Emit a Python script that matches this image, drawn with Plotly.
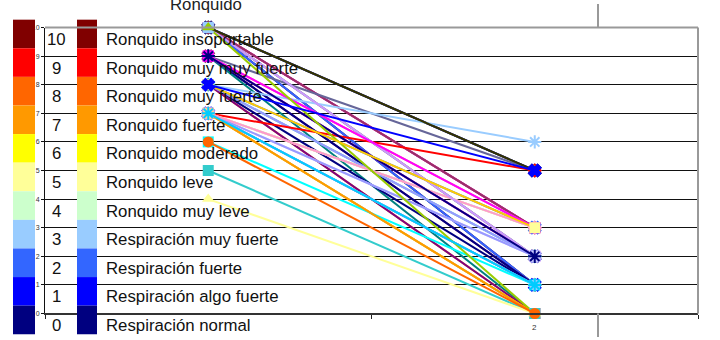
import plotly.graph_objects as go

# Snoring scale: level, colour and description
levels = [10, 9, 8, 7, 6, 5, 4, 3, 2, 1, 0]
level_colors = ["#800000", "#FF0000", "#FF6600", "#FF9900", "#FFFF00", "#FFFF99",
                "#CCFFCC", "#99CCFF", "#3366FF", "#0000FF", "#000080"]
level_names = ["Ronquido insoportable", "Ronquido muy muy fuerte", "Ronquido muy fuerte",
               "Ronquido fuerte", "Ronquido moderado", "Ronquido leve", "Ronquido muy leve",
               "Respiración muy fuerte", "Respiración fuerte", "Respiración algo fuerte",
               "Respiración normal"]

# Measurement points on the x axis
visits = ["1", "2"]

# One series per patient: score at visit 1 and visit 2, with its line/marker style
score_1 = [10, 10, 10, 10, 10, 10, 10, 10, 10, 10,
           9, 9, 9, 9, 9, 9, 9,
           8, 8, 8, 8, 8, 8, 8,
           7, 7, 7, 7, 7, 7, 7, 7, 7, 7,
           6, 7, 10, 9, 9,
           10, 10, 8, 8, 7, 7, 5, 4, 6]
score_2 = [5, 3, 2, 1, 1, 2, 3, 5, 1, 3,
           5, 3, 1, 1, 0, 2, 2,
           6, 2, 1, 0, 0, 2, 3,
           5, 3, 3, 2, 1, 1, 0, 0, 2, 3,
           1, 1, 2, 3, 2,
           0, 5, 3, 5, 0, 1, 0, 0, 0]
line_colors = ["#000080", "#800000", "#666699", "#008080", "#800080", "#969696", "#FF00FF", "#333399",
               "#3366FF", "#993366",
               "#666699", "#FF8080", "#800080", "#000080", "#008080", "#993366", "#FF00FF",
               "#99CCFF", "#33CCCC", "#000080", "#FF9900", "#800080", "#9999FF", "#3366FF",
               "#FF0000", "#FFCC00", "#CCFFFF", "#CCCCFF", "#FFFF99", "#0000FF", "#993366", "#FFFF00",
               "#9999FF", "#FF99CC",
               "#00FFFF", "#99CCFF", "#CC99FF", "#FF00FF", "#000080",
               "#99CC00", "#333300", "#FFCC00", "#0000FF", "#FF9900", "#00CCFF", "#33CCCC", "#FFFF99",
               "#FF6600"]
marker_symbols = ["x", "square", "asterisk-open", "diamond", "circle", "x", "square", "x",
                  "triangle-up", "diamond",
                  "diamond", "square", "triangle-up", "asterisk-open", "circle", "x", "square",
                  "asterisk-open", "diamond", "triangle-up", "circle", "square", "x", "x",
                  "diamond", "triangle-up", "circle", "square", "diamond", "x", "square", "triangle-up",
                  "x", "diamond",
                  "square", "circle", "square", "square", "asterisk-open",
                  "square", "triangle-up", "square", "x", "square", "asterisk-open", "square",
                  "triangle-up", "circle"]
marker_colors = ["#000080", "#800000", "#666699", "#008080", "#800080", "#969696", "#FF00FF", "#333399",
                 "#3366FF", "#993366",
                 "#666699", "#FF8080", "#800080", "#000080", "#008080", "#993366", "#FF00FF",
                 "#99CCFF", "#33CCCC", "#000080", "#FF9900", "#800080", "#9999FF", "#3366FF",
                 "#FF0000", "#FFCC00", "#CCFFFF", "#CCCCFF", "#FFFF99", "#0000FF", "#993366", "#FFFF00",
                 "#9999FF", "#FF99CC",
                 "#00FFFF", "#99CCFF", "#CCCCFF", "#FF00FF", "#000080",
                 "#99CCFF", "#99CC00", "#FFFF99", "#0000FF", "#FFCC99", "#00CCFF", "#33CCCC", "#FFFF99",
                 "#FF6600"]

FONT = "Liberation Sans, Arial, sans-serif"
W, H = 720, 340
PLOT_LEFT, PLOT_RIGHT = 45, 698        # plot area in pixels
PLOT_TOP, PLOT_BOTTOM = 24, 316
px_per_level = (PLOT_BOTTOM - PLOT_TOP) / 10.0

fig = go.Figure()

# Patient lines on the main axes
for s1, s2, lc, sym, mc in zip(score_1, score_2, line_colors, marker_symbols, marker_colors):
    is_open = sym.endswith("-open") or sym == "x"
    fig.add_trace(go.Scatter(
        x=visits, y=[s1, s2], mode="lines+markers",
        line=dict(color=lc, width=2),
        marker=dict(symbol=sym, size=11 if sym != "x" else 10, color=mc,
                    line=dict(color=mc, width=2 if is_open else 0)),
        cliponaxis=False, showlegend=False, hoverinfo="skip",
        xaxis="x", yaxis="y"))

# Scale table on a full-size overlay (pixel x, level y)
col_bar_a, col_bar_b, col_num, col_text = 24, 87, 56, 105
bar_base = [lv - 0.726 for lv in levels]
fig.add_trace(go.Bar(x=[col_bar_a] * len(levels), y=[1] * len(levels), base=bar_base,
                     width=22, marker=dict(color=level_colors, line=dict(width=0)),
                     showlegend=False, hoverinfo="skip", xaxis="x2", yaxis="y2"))
fig.add_trace(go.Bar(x=[col_bar_b] * len(levels), y=[1] * len(levels), base=bar_base,
                     width=20, marker=dict(color=level_colors, line=dict(width=0)),
                     showlegend=False, hoverinfo="skip", xaxis="x2", yaxis="y2"))

annotations = []
for lv, name in zip(levels, level_names):
    row_y = lv - 0.42
    annotations.append(dict(x=col_num, y=row_y, xref="x2", yref="y2", text=str(lv),
                            showarrow=False, xanchor="center", yanchor="middle",
                            font=dict(family=FONT, size=16.8, color="#111")))
    annotations.append(dict(x=col_text, y=row_y, xref="x2", yref="y2", text=name,
                            showarrow=False, xanchor="left", yanchor="middle", borderpad=0,
                            font=dict(family=FONT, size=16.8, color="#111")))
# Axis caption above the plot, and the label of the second visit
annotations.append(dict(x=206 / W, y=1 - 1 / H, xref="paper", yref="paper", text="Ronquido",
                        showarrow=False, xanchor="center", yanchor="middle",
                        font=dict(family=FONT, size=16.8, color="#222")))
annotations.append(dict(x=1, y=(H - 330) / H, xref="x", yref="paper", text=visits[1],
                        showarrow=False, xanchor="center", yanchor="middle",
                        font=dict(family=FONT, size=8, color="#333")))

top_level = PLOT_BOTTOM / px_per_level
bottom_level = -(H - PLOT_BOTTOM) / px_per_level

shapes = [
    # grey frame on top and right of the plot area
    dict(type="line", xref="x domain", yref="y domain", x0=0, x1=1, y0=1, y1=1,
         line=dict(color="#999999", width=2)),
    dict(type="line", xref="x domain", yref="y domain", x0=1, x1=1, y0=0, y1=1,
         line=dict(color="#999999", width=2)),
    # frame edge of the surrounding sheet
    dict(type="line", xref="paper", yref="paper", x0=598 / W, x1=598 / W,
         y0=1, y1=1 - PLOT_TOP / H, line=dict(color="#999999", width=2)),
    dict(type="line", xref="paper", yref="paper", x0=598 / W, x1=598 / W,
         y0=(H - PLOT_BOTTOM) / H, y1=0, line=dict(color="#999999", width=2)),
]

fig.update_layout(
    width=W, height=H, margin=dict(l=0, r=0, t=0, b=0),
    paper_bgcolor="white", plot_bgcolor="rgba(0,0,0,0)",
    barmode="overlay", showlegend=False,
    font=dict(family=FONT),
    xaxis=dict(domain=[PLOT_LEFT / W, PLOT_RIGHT / W], type="category",
               categoryorder="array", categoryarray=visits, range=[-0.5, 1.5],
               tickson="boundaries", ticks="outside", ticklen=4, tickcolor="#222",
               showline=True, linecolor="#333333", linewidth=2, showgrid=False,
               zeroline=False, showticklabels=False, anchor="y"),
    yaxis=dict(domain=[(H - PLOT_BOTTOM) / H, (H - PLOT_TOP) / H], range=[0, 10],
               tick0=0, dtick=1, showgrid=True, gridcolor="#111111", gridwidth=1,
               showline=True, linecolor="#111111", linewidth=1, ticks="outside",
               ticklen=3, tickcolor="#111", zeroline=False,
               tickfont=dict(size=7, color="#333"), anchor="x"),
    xaxis2=dict(domain=[0, 1], range=[0, W], visible=False, anchor="y2"),
    yaxis2=dict(domain=[0, 1], range=[bottom_level, top_level], visible=False, anchor="x2"),
    annotations=annotations, shapes=shapes,
)

fig.write_html("out.html")
